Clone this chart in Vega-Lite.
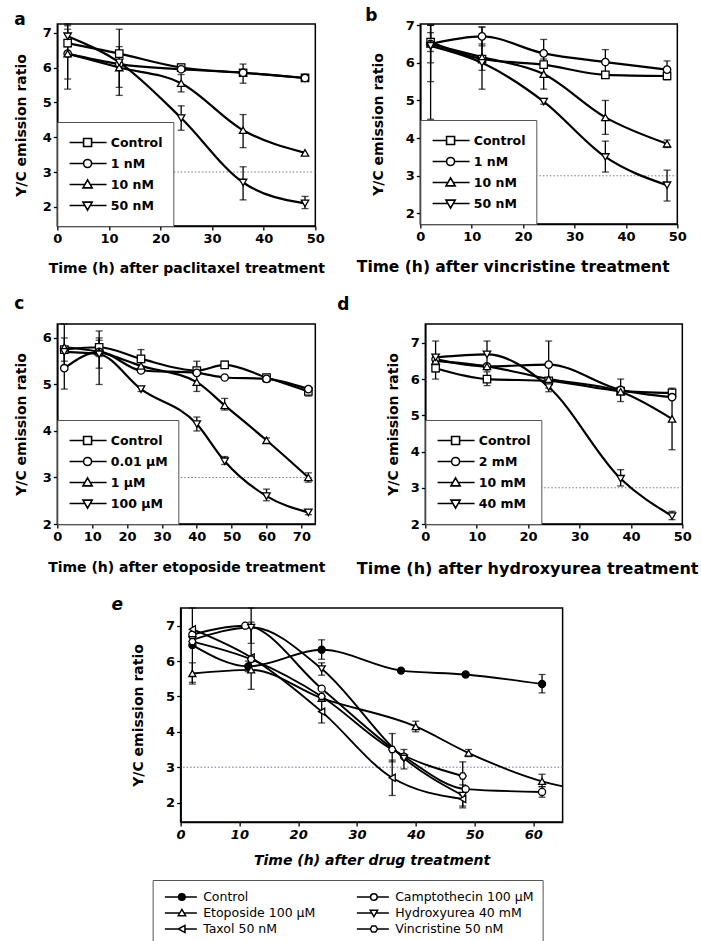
{
"$schema": "https://vega.github.io/schema/vega-lite/v6.json",
"background": "white",
"padding": {"left": 13, "top": 6, "right": 0, "bottom": 0},
"datasets": {
"a": [
{"series":"Control","t":2,"v":6.7,"lo":6.45,"hi":6.95},
{"series":"Control","t":12,"v":6.4},
{"series":"Control","t":24,"v":6.0,"lo":5.9,"hi":6.1},
{"series":"Control","t":36,"v":5.85,"lo":5.55,"hi":6.1},
{"series":"Control","t":48,"v":5.7,"lo":5.62,"hi":5.78},
{"series":"1 nM","t":2,"v":6.4,"lo":5.67,"hi":7.1},
{"series":"1 nM","t":12,"v":6.1},
{"series":"1 nM","t":24,"v":5.95},
{"series":"1 nM","t":36,"v":5.85},
{"series":"1 nM","t":48,"v":5.7},
{"series":"10 nM","t":2,"v":6.4,"lo":5.38,"hi":7.25},
{"series":"10 nM","t":12,"v":6.0,"lo":5.43,"hi":6.6},
{"series":"10 nM","t":24,"v":5.55,"lo":5.3,"hi":5.8},
{"series":"10 nM","t":36,"v":4.2,"lo":3.7,"hi":4.65},
{"series":"10 nM","t":48,"v":3.55},
{"series":"50 nM","t":2,"v":6.9,"lo":6.6,"hi":7.2},
{"series":"50 nM","t":12,"v":6.15,"lo":5.2,"hi":7.1},
{"series":"50 nM","t":24,"v":4.55,"lo":4.2,"hi":4.9},
{"series":"50 nM","t":36,"v":2.7,"lo":2.2,"hi":3.15},
{"series":"50 nM","t":48,"v":2.1,"lo":1.95,"hi":2.3}
],
"b": [
{"series":"Control","t":2,"v":6.55,"lo":6.3,"hi":6.8},
{"series":"Control","t":12,"v":6.1},
{"series":"Control","t":24,"v":5.95},
{"series":"Control","t":36,"v":5.68},
{"series":"Control","t":48,"v":5.65,"lo":5.55,"hi":5.75},
{"series":"1 nM","t":2,"v":6.5,"lo":6.0,"hi":7.0},
{"series":"1 nM","t":12,"v":6.7,"lo":6.45,"hi":6.95},
{"series":"1 nM","t":24,"v":6.25,"lo":5.9,"hi":6.62},
{"series":"1 nM","t":36,"v":6.02,"lo":5.7,"hi":6.35},
{"series":"1 nM","t":48,"v":5.82,"lo":5.6,"hi":6.05},
{"series":"10 nM","t":2,"v":6.5,"lo":5.5,"hi":7.0},
{"series":"10 nM","t":12,"v":6.15,"lo":5.8,"hi":6.5},
{"series":"10 nM","t":24,"v":5.7,"lo":5.3,"hi":6.1},
{"series":"10 nM","t":36,"v":4.55,"lo":4.1,"hi":5.0},
{"series":"10 nM","t":48,"v":3.85,"lo":3.75,"hi":3.95},
{"series":"50 nM","t":2,"v":6.45,"lo":4.5,"hi":7.0},
{"series":"50 nM","t":12,"v":6.0,"lo":5.3,"hi":6.95},
{"series":"50 nM","t":24,"v":4.97,"lo":4.9,"hi":5.05},
{"series":"50 nM","t":36,"v":3.5,"lo":3.1,"hi":3.92},
{"series":"50 nM","t":48,"v":2.75,"lo":2.33,"hi":3.15}
],
"c": [
{"series":"Control","t":2,"v":5.75},
{"series":"Control","t":12,"v":5.8,"lo":5.6,"hi":5.95},
{"series":"Control","t":24,"v":5.55,"lo":5.3,"hi":5.75},
{"series":"Control","t":40,"v":5.3},
{"series":"Control","t":48,"v":5.42,"lo":5.35,"hi":5.5},
{"series":"Control","t":60,"v":5.15},
{"series":"Control","t":72,"v":4.85,"lo":4.75,"hi":4.95},
{"series":"0.01 µM","t":2,"v":5.35,"lo":4.9,"hi":5.8},
{"series":"0.01 µM","t":12,"v":5.7},
{"series":"0.01 µM","t":24,"v":5.3},
{"series":"0.01 µM","t":40,"v":5.25},
{"series":"0.01 µM","t":48,"v":5.15},
{"series":"0.01 µM","t":60,"v":5.12,"lo":5.05,"hi":5.2},
{"series":"0.01 µM","t":72,"v":4.9},
{"series":"1 µM","t":2,"v":5.8,"lo":5.5,"hi":6.3},
{"series":"1 µM","t":12,"v":5.7,"lo":5.0,"hi":6.15},
{"series":"1 µM","t":24,"v":5.4},
{"series":"1 µM","t":40,"v":5.05,"lo":4.85,"hi":5.5},
{"series":"1 µM","t":48,"v":4.55,"lo":4.45,"hi":4.7},
{"series":"1 µM","t":60,"v":3.8,"lo":3.75,"hi":3.85},
{"series":"1 µM","t":72,"v":3.0,"lo":2.9,"hi":3.1},
{"series":"100 µM","t":2,"v":5.7,"lo":5.4,"hi":6.0},
{"series":"100 µM","t":12,"v":5.65,"lo":5.35,"hi":6.0},
{"series":"100 µM","t":24,"v":4.9,"lo":4.85,"hi":4.95},
{"series":"100 µM","t":40,"v":4.15,"lo":4.0,"hi":4.3},
{"series":"100 µM","t":48,"v":3.35,"lo":3.28,"hi":3.45},
{"series":"100 µM","t":60,"v":2.6,"lo":2.5,"hi":2.75},
{"series":"100 µM","t":72,"v":2.25,"lo":2.2,"hi":2.3}
],
"d": [
{"series":"Control","t":2,"v":6.3,"lo":6.2,"hi":6.45},
{"series":"Control","t":12,"v":6.0,"lo":5.82,"hi":6.2},
{"series":"Control","t":24,"v":5.95},
{"series":"Control","t":38,"v":5.67},
{"series":"Control","t":48,"v":5.62,"lo":5.55,"hi":5.75},
{"series":"2 mM","t":2,"v":6.55},
{"series":"2 mM","t":12,"v":6.35},
{"series":"2 mM","t":24,"v":6.4,"lo":5.75,"hi":7.05},
{"series":"2 mM","t":38,"v":5.7,"lo":5.38,"hi":6.0},
{"series":"2 mM","t":48,"v":5.5},
{"series":"10 mM","t":2,"v":6.5,"lo":6.0,"hi":7.05},
{"series":"10 mM","t":12,"v":6.35},
{"series":"10 mM","t":24,"v":6.0},
{"series":"10 mM","t":38,"v":5.65},
{"series":"10 mM","t":48,"v":4.9,"lo":4.05,"hi":5.55},
{"series":"40 mM","t":2,"v":6.6},
{"series":"40 mM","t":12,"v":6.68,"lo":6.35,"hi":7.05},
{"series":"40 mM","t":24,"v":5.78,"lo":5.65,"hi":5.9},
{"series":"40 mM","t":38,"v":3.25,"lo":3.05,"hi":3.5},
{"series":"40 mM","t":48,"v":2.22,"lo":2.12,"hi":2.35}
],
"e": [
{"series":"Control","t":2,"v":6.45},
{"series":"Control","t":11.5,"v":5.85,"lo":5.7,"hi":6.0},
{"series":"Control","t":24,"v":6.32,"lo":6.05,"hi":6.6},
{"series":"Control","t":37.5,"v":5.73},
{"series":"Control","t":48.5,"v":5.62},
{"series":"Control","t":61.5,"v":5.35,"lo":5.1,"hi":5.62},
{"series":"Camptothecin 100 µM","t":2,"v":6.75},
{"series":"Camptothecin 100 µM","t":11,"v":7.0},
{"series":"Camptothecin 100 µM","t":24,"v":5.22},
{"series":"Camptothecin 100 µM","t":38,"v":3.3},
{"series":"Camptothecin 100 µM","t":48.5,"v":2.38},
{"series":"Camptothecin 100 µM","t":61.5,"v":2.3,"lo":2.15,"hi":2.45},
{"series":"Etoposide 100 µM","t":2,"v":5.65,"lo":5.35,"hi":5.95},
{"series":"Etoposide 100 µM","t":12,"v":5.75},
{"series":"Etoposide 100 µM","t":24,"v":4.95},
{"series":"Etoposide 100 µM","t":40,"v":4.15,"lo":4.0,"hi":4.3},
{"series":"Etoposide 100 µM","t":49,"v":3.4,"lo":3.3,"hi":3.5},
{"series":"Etoposide 100 µM","t":61.5,"v":2.6,"lo":2.45,"hi":2.8},
{"series":"Etoposide 100 µM","t":72,"v":2.25},
{"series":"Hydroxyurea 40 mM","t":2,"v":6.6},
{"series":"Hydroxyurea 40 mM","t":12,"v":6.95,"lo":6.5,"hi":7.1},
{"series":"Hydroxyurea 40 mM","t":24,"v":5.78,"lo":5.6,"hi":5.95},
{"series":"Hydroxyurea 40 mM","t":38,"v":3.25,"lo":2.95,"hi":3.5},
{"series":"Hydroxyurea 40 mM","t":48,"v":2.2,"lo":1.9,"hi":2.5},
{"series":"Taxol 50 nM","t":2,"v":6.9,"lo":5.4,"hi":7.5},
{"series":"Taxol 50 nM","t":12,"v":6.1,"lo":5.2,"hi":7.5},
{"series":"Taxol 50 nM","t":24,"v":4.57,"lo":4.25,"hi":4.9},
{"series":"Taxol 50 nM","t":36,"v":2.7,"lo":2.2,"hi":3.2},
{"series":"Taxol 50 nM","t":48,"v":2.1,"lo":1.85,"hi":2.4},
{"series":"Vincristine 50 nM","t":2,"v":6.55},
{"series":"Vincristine 50 nM","t":12,"v":6.05},
{"series":"Vincristine 50 nM","t":24,"v":5.0},
{"series":"Vincristine 50 nM","t":36,"v":3.5,"lo":3.15,"hi":3.95},
{"series":"Vincristine 50 nM","t":48,"v":2.75,"lo":2.2,"hi":3.15}
]
},
"vconcat": [
{
"vconcat": [
{
"hconcat": [
{
"title": {"text": "a", "offset": -6},
"width": 258, "height": 202,
"data": {"name": "a"},
"layer": [
{"data": {"values": [{}]}, "mark": {"type": "rule", "strokeDash": [1.5, 2], "color": "#777", "strokeWidth": 1}, "encoding": {"y": {"datum": 3, "type": "quantitative", "scale": {"domain": [1.45, 7.25], "nice": false, "zero": false}, "axis": {"title": "Y/C emission ratio", "values": [2,3,4,5,6,7], "titlePadding": 14}}}},
{"mark": {"type": "line", "interpolate": "monotone", "color": "black", "strokeWidth": 2.2, "clip": true}, "encoding": {"x": {"field": "t", "type": "quantitative", "scale": {"domain": [0, 50], "nice": false, "zero": false}, "axis": {"title": "Time (h) after paclitaxel treatment", "values": [0,10,20,30,40,50], "titlePadding": 16}}, "y": {"field": "v", "type": "quantitative", "scale": {"domain": [1.45, 7.25], "nice": false, "zero": false}, "axis": {"title": "Y/C emission ratio", "values": [2,3,4,5,6,7], "titlePadding": 14}}, "detail": {"field": "series"}}},
{"transform": [{"filter": "isValid(datum.lo)"}], "mark": {"type": "errorbar", "ticks": {"size": 7, "color": "black", "thickness": 1.3}, "rule": {"color": "black", "strokeWidth": 1.3}}, "encoding": {"x": {"field": "t", "type": "quantitative", "scale": {"domain": [0, 50], "nice": false, "zero": false}, "axis": {"title": "Time (h) after paclitaxel treatment", "values": [0,10,20,30,40,50], "titlePadding": 16}}, "y": {"field": "lo", "type": "quantitative", "scale": {"domain": [1.45, 7.25], "nice": false, "zero": false}, "axis": {"title": "Y/C emission ratio", "values": [2,3,4,5,6,7], "titlePadding": 14}}, "y2": {"field": "hi"}}},
{"mark": {"type": "point", "filled": true, "fill": "white", "stroke": "black", "strokeWidth": 1.3, "size": 55, "opacity": 1, "clip": true}, "encoding": {"x": {"field": "t", "type": "quantitative", "scale": {"domain": [0, 50], "nice": false, "zero": false}, "axis": {"title": "Time (h) after paclitaxel treatment", "values": [0,10,20,30,40,50], "titlePadding": 16}}, "y": {"field": "v", "type": "quantitative", "scale": {"domain": [1.45, 7.25], "nice": false, "zero": false}, "axis": {"title": "Y/C emission ratio", "values": [2,3,4,5,6,7], "titlePadding": 14}}, "shape": {"field": "series", "scale": {"domain": ["Control","1 nM","10 nM","50 nM"], "range": ["square","circle","triangle-up","triangle-down"]}, "legend": null}}},
{"transform": [{"filter": "false"}], "mark": {"type": "point", "color": "black", "opacity": 1}, "encoding": {"x": {"field": "t", "type": "quantitative", "scale": {"domain": [0, 50], "nice": false, "zero": false}, "axis": {"title": "Time (h) after paclitaxel treatment", "values": [0,10,20,30,40,50], "titlePadding": 16}}, "y": {"field": "v", "type": "quantitative", "scale": {"domain": [1.45, 7.25], "nice": false, "zero": false}, "axis": {"title": "Y/C emission ratio", "values": [2,3,4,5,6,7], "titlePadding": 14}}, "shape": {"field": "series", "scale": {"domain": ["Control","1 nM","10 nM","50 nM"], "range": ["M-1,0H2.5M4.5,0H8.25M2.5,-1H4.5V1H2.5Z", "M-1,0H2.5M4.5,0H8.25M4.5,0C4.5,0.552 4.052,1 3.5,1C2.948,1 2.5,0.552 2.5,0C2.5,-0.552 2.948,-1 3.5,-1C4.052,-1 4.5,-0.552 4.5,0Z", "M-1,0H2.85M4.15,0H8.25M3.5,-1.15L4.65,0.85H2.35Z", "M-1,0H2.85M4.15,0H8.25M3.5,1.15L4.65,-0.85H2.35Z"]}, "legend": {"title": null, "orient": "bottom-left", "offset": 0, "padding": 10, "symbolSize": 64, "symbolStrokeWidth": 1.6, "symbolStrokeColor": "black", "symbolFillColor": "white", "symbolOpacity": 1, "labelOffset": 31, "labelFont": "DejaVu Sans", "labelFontSize": 12.5, "labelFontWeight": "bold", "labelColor": "black", "clipHeight": 21, "rowPadding": 0, "strokeColor": "#555", "fillColor": "white", "encode": {"legend": {"update": {"strokeDash": {"value": [1.5, 1.5]}, "strokeWidth": {"value": 1}}}, "labels": {"update": {"fontStyle": {"signal": "datum.label === 'Control' ? 'italic' : 'normal'"}}}}}}}}
],
"resolve": {"scale": {"shape": "independent"}}
},
{
"title": {"text": "b", "offset": -6, "dx": 9},
"width": 257, "height": 200,
"data": {"name": "b"},
"layer": [
{"data": {"values": [{}]}, "mark": {"type": "rule", "strokeDash": [1.5, 2], "color": "#777", "strokeWidth": 1}, "encoding": {"y": {"datum": 3, "type": "quantitative", "scale": {"domain": [1.72, 7.03], "nice": false, "zero": false}, "axis": {"title": "Y/C emission ratio", "values": [2,3,4,5,6,7], "titlePadding": 20}}}},
{"mark": {"type": "line", "interpolate": "monotone", "color": "black", "strokeWidth": 2.2, "clip": true}, "encoding": {"x": {"field": "t", "type": "quantitative", "scale": {"domain": [0, 50], "nice": false, "zero": false}, "axis": {"title": "Time (h) after vincristine treatment", "values": [0,10,20,30,40,50], "titlePadding": 16, "titleX": -64, "titleAlign": "left", "titleFontSize": 15.5}}, "y": {"field": "v", "type": "quantitative", "scale": {"domain": [1.72, 7.03], "nice": false, "zero": false}, "axis": {"title": "Y/C emission ratio", "values": [2,3,4,5,6,7], "titlePadding": 20}}, "detail": {"field": "series"}}},
{"transform": [{"filter": "isValid(datum.lo)"}], "mark": {"type": "errorbar", "ticks": {"size": 7, "color": "black", "thickness": 1.3}, "rule": {"color": "black", "strokeWidth": 1.3}}, "encoding": {"x": {"field": "t", "type": "quantitative", "scale": {"domain": [0, 50], "nice": false, "zero": false}, "axis": {"title": "Time (h) after vincristine treatment", "values": [0,10,20,30,40,50], "titlePadding": 16, "titleX": -64, "titleAlign": "left", "titleFontSize": 15.5}}, "y": {"field": "lo", "type": "quantitative", "scale": {"domain": [1.72, 7.03], "nice": false, "zero": false}, "axis": {"title": "Y/C emission ratio", "values": [2,3,4,5,6,7], "titlePadding": 20}}, "y2": {"field": "hi"}}},
{"mark": {"type": "point", "filled": true, "fill": "white", "stroke": "black", "strokeWidth": 1.3, "size": 55, "opacity": 1, "clip": true}, "encoding": {"x": {"field": "t", "type": "quantitative", "scale": {"domain": [0, 50], "nice": false, "zero": false}, "axis": {"title": "Time (h) after vincristine treatment", "values": [0,10,20,30,40,50], "titlePadding": 16, "titleX": -64, "titleAlign": "left", "titleFontSize": 15.5}}, "y": {"field": "v", "type": "quantitative", "scale": {"domain": [1.72, 7.03], "nice": false, "zero": false}, "axis": {"title": "Y/C emission ratio", "values": [2,3,4,5,6,7], "titlePadding": 20}}, "shape": {"field": "series", "scale": {"domain": ["Control","1 nM","10 nM","50 nM"], "range": ["square","circle","triangle-up","triangle-down"]}, "legend": null}}},
{"transform": [{"filter": "false"}], "mark": {"type": "point", "color": "black", "opacity": 1}, "encoding": {"x": {"field": "t", "type": "quantitative", "scale": {"domain": [0, 50], "nice": false, "zero": false}, "axis": {"title": "Time (h) after vincristine treatment", "values": [0,10,20,30,40,50], "titlePadding": 16, "titleX": -64, "titleAlign": "left", "titleFontSize": 15.5}}, "y": {"field": "v", "type": "quantitative", "scale": {"domain": [1.72, 7.03], "nice": false, "zero": false}, "axis": {"title": "Y/C emission ratio", "values": [2,3,4,5,6,7], "titlePadding": 20}}, "shape": {"field": "series", "scale": {"domain": ["Control","1 nM","10 nM","50 nM"], "range": ["M-1,0H2.5M4.5,0H8.25M2.5,-1H4.5V1H2.5Z", "M-1,0H2.5M4.5,0H8.25M4.5,0C4.5,0.552 4.052,1 3.5,1C2.948,1 2.5,0.552 2.5,0C2.5,-0.552 2.948,-1 3.5,-1C4.052,-1 4.5,-0.552 4.5,0Z", "M-1,0H2.85M4.15,0H8.25M3.5,-1.15L4.65,0.85H2.35Z", "M-1,0H2.85M4.15,0H8.25M3.5,1.15L4.65,-0.85H2.35Z"]}, "legend": {"title": null, "orient": "bottom-left", "offset": 0, "padding": 10, "symbolSize": 64, "symbolStrokeWidth": 1.6, "symbolStrokeColor": "black", "symbolFillColor": "white", "symbolOpacity": 1, "labelOffset": 31, "labelFont": "DejaVu Sans", "labelFontSize": 12.5, "labelFontWeight": "bold", "labelColor": "black", "clipHeight": 21, "rowPadding": 0, "strokeColor": "#555", "fillColor": "white", "encode": {"legend": {"update": {"strokeDash": {"value": [1.5, 1.5]}, "strokeWidth": {"value": 1}}}}}}}}
],
"resolve": {"scale": {"shape": "independent"}}
}
],
"spacing": 105,
"bounds": "flush"
},
{
"hconcat": [
{
"title": {"text": "c", "offset": 10},
"width": 258, "height": 200,
"data": {"name": "c"},
"layer": [
{"data": {"values": [{}]}, "mark": {"type": "rule", "strokeDash": [1.5, 2], "color": "#777", "strokeWidth": 1}, "encoding": {"y": {"datum": 3, "type": "quantitative", "scale": {"domain": [2, 6.3], "nice": false, "zero": false}, "axis": {"title": "Y/C emission ratio", "values": [2,3,4,5,6], "titlePadding": 14}}}},
{"mark": {"type": "line", "interpolate": "monotone", "color": "black", "strokeWidth": 2.2, "clip": true}, "encoding": {"x": {"field": "t", "type": "quantitative", "scale": {"domain": [0, 74], "nice": false, "zero": false}, "axis": {"title": "Time (h) after etoposide treatment", "values": [0,10,20,30,40,50,60,70], "titlePadding": 17}}, "y": {"field": "v", "type": "quantitative", "scale": {"domain": [2, 6.3], "nice": false, "zero": false}, "axis": {"title": "Y/C emission ratio", "values": [2,3,4,5,6], "titlePadding": 14}}, "detail": {"field": "series"}}},
{"transform": [{"filter": "isValid(datum.lo)"}], "mark": {"type": "errorbar", "ticks": {"size": 7, "color": "black", "thickness": 1.3}, "rule": {"color": "black", "strokeWidth": 1.3}}, "encoding": {"x": {"field": "t", "type": "quantitative", "scale": {"domain": [0, 74], "nice": false, "zero": false}, "axis": {"title": "Time (h) after etoposide treatment", "values": [0,10,20,30,40,50,60,70], "titlePadding": 17}}, "y": {"field": "lo", "type": "quantitative", "scale": {"domain": [2, 6.3], "nice": false, "zero": false}, "axis": {"title": "Y/C emission ratio", "values": [2,3,4,5,6], "titlePadding": 14}}, "y2": {"field": "hi"}}},
{"mark": {"type": "point", "filled": true, "fill": "white", "stroke": "black", "strokeWidth": 1.3, "size": 55, "opacity": 1, "clip": true}, "encoding": {"x": {"field": "t", "type": "quantitative", "scale": {"domain": [0, 74], "nice": false, "zero": false}, "axis": {"title": "Time (h) after etoposide treatment", "values": [0,10,20,30,40,50,60,70], "titlePadding": 17}}, "y": {"field": "v", "type": "quantitative", "scale": {"domain": [2, 6.3], "nice": false, "zero": false}, "axis": {"title": "Y/C emission ratio", "values": [2,3,4,5,6], "titlePadding": 14}}, "shape": {"field": "series", "scale": {"domain": ["Control","0.01 µM","1 µM","100 µM"], "range": ["square","circle","triangle-up","triangle-down"]}, "legend": null}}},
{"transform": [{"filter": "false"}], "mark": {"type": "point", "color": "black", "opacity": 1}, "encoding": {"x": {"field": "t", "type": "quantitative", "scale": {"domain": [0, 74], "nice": false, "zero": false}, "axis": {"title": "Time (h) after etoposide treatment", "values": [0,10,20,30,40,50,60,70], "titlePadding": 17}}, "y": {"field": "v", "type": "quantitative", "scale": {"domain": [2, 6.3], "nice": false, "zero": false}, "axis": {"title": "Y/C emission ratio", "values": [2,3,4,5,6], "titlePadding": 14}}, "shape": {"field": "series", "scale": {"domain": ["Control","0.01 µM","1 µM","100 µM"], "range": ["M-1,0H2.5M4.5,0H8.25M2.5,-1H4.5V1H2.5Z", "M-1,0H2.5M4.5,0H8.25M4.5,0C4.5,0.552 4.052,1 3.5,1C2.948,1 2.5,0.552 2.5,0C2.5,-0.552 2.948,-1 3.5,-1C4.052,-1 4.5,-0.552 4.5,0Z", "M-1,0H2.85M4.15,0H8.25M3.5,-1.15L4.65,0.85H2.35Z", "M-1,0H2.85M4.15,0H8.25M3.5,1.15L4.65,-0.85H2.35Z"]}, "legend": {"title": null, "orient": "bottom-left", "offset": 0, "padding": 10, "symbolSize": 64, "symbolStrokeWidth": 1.6, "symbolStrokeColor": "black", "symbolFillColor": "white", "symbolOpacity": 1, "labelOffset": 31, "labelFont": "DejaVu Sans", "labelFontSize": 12.5, "labelFontWeight": "bold", "labelColor": "black", "clipHeight": 21, "rowPadding": 0, "strokeColor": "#555", "fillColor": "white", "encode": {"legend": {"update": {"strokeDash": {"value": [1.5, 1.5]}, "strokeWidth": {"value": 1}}}}}}}}
],
"resolve": {"scale": {"shape": "independent"}}
},
{
"title": {"text": "d", "offset": 10, "dx": -19},
"width": 257, "height": 200,
"data": {"name": "d"},
"layer": [
{"data": {"values": [{}]}, "mark": {"type": "rule", "strokeDash": [1.5, 2], "color": "#777", "strokeWidth": 1}, "encoding": {"y": {"datum": 3, "type": "quantitative", "scale": {"domain": [2, 7.52], "nice": false, "zero": false}, "axis": {"title": "Y/C emission ratio", "values": [2,3,4,5,6,7], "titlePadding": 10}}}},
{"mark": {"type": "line", "interpolate": "monotone", "color": "black", "strokeWidth": 2.2, "clip": true}, "encoding": {"x": {"field": "t", "type": "quantitative", "scale": {"domain": [0, 50], "nice": false, "zero": false}, "axis": {"title": "Time (h) after hydroxyurea treatment", "values": [0,10,20,30,40,50], "titlePadding": 17, "titleX": -69, "titleAlign": "left", "titleFontSize": 16}}, "y": {"field": "v", "type": "quantitative", "scale": {"domain": [2, 7.52], "nice": false, "zero": false}, "axis": {"title": "Y/C emission ratio", "values": [2,3,4,5,6,7], "titlePadding": 10}}, "detail": {"field": "series"}}},
{"transform": [{"filter": "isValid(datum.lo)"}], "mark": {"type": "errorbar", "ticks": {"size": 7, "color": "black", "thickness": 1.3}, "rule": {"color": "black", "strokeWidth": 1.3}}, "encoding": {"x": {"field": "t", "type": "quantitative", "scale": {"domain": [0, 50], "nice": false, "zero": false}, "axis": {"title": "Time (h) after hydroxyurea treatment", "values": [0,10,20,30,40,50], "titlePadding": 17, "titleX": -69, "titleAlign": "left", "titleFontSize": 16}}, "y": {"field": "lo", "type": "quantitative", "scale": {"domain": [2, 7.52], "nice": false, "zero": false}, "axis": {"title": "Y/C emission ratio", "values": [2,3,4,5,6,7], "titlePadding": 10}}, "y2": {"field": "hi"}}},
{"mark": {"type": "point", "filled": true, "fill": "white", "stroke": "black", "strokeWidth": 1.3, "size": 55, "opacity": 1, "clip": true}, "encoding": {"x": {"field": "t", "type": "quantitative", "scale": {"domain": [0, 50], "nice": false, "zero": false}, "axis": {"title": "Time (h) after hydroxyurea treatment", "values": [0,10,20,30,40,50], "titlePadding": 17, "titleX": -69, "titleAlign": "left", "titleFontSize": 16}}, "y": {"field": "v", "type": "quantitative", "scale": {"domain": [2, 7.52], "nice": false, "zero": false}, "axis": {"title": "Y/C emission ratio", "values": [2,3,4,5,6,7], "titlePadding": 10}}, "shape": {"field": "series", "scale": {"domain": ["Control","2 mM","10 mM","40 mM"], "range": ["square","circle","triangle-up","triangle-down"]}, "legend": null}}},
{"transform": [{"filter": "false"}], "mark": {"type": "point", "color": "black", "opacity": 1}, "encoding": {"x": {"field": "t", "type": "quantitative", "scale": {"domain": [0, 50], "nice": false, "zero": false}, "axis": {"title": "Time (h) after hydroxyurea treatment", "values": [0,10,20,30,40,50], "titlePadding": 17, "titleX": -69, "titleAlign": "left", "titleFontSize": 16}}, "y": {"field": "v", "type": "quantitative", "scale": {"domain": [2, 7.52], "nice": false, "zero": false}, "axis": {"title": "Y/C emission ratio", "values": [2,3,4,5,6,7], "titlePadding": 10}}, "shape": {"field": "series", "scale": {"domain": ["Control","2 mM","10 mM","40 mM"], "range": ["M-1,0H2.5M4.5,0H8.25M2.5,-1H4.5V1H2.5Z", "M-1,0H2.5M4.5,0H8.25M4.5,0C4.5,0.552 4.052,1 3.5,1C2.948,1 2.5,0.552 2.5,0C2.5,-0.552 2.948,-1 3.5,-1C4.052,-1 4.5,-0.552 4.5,0Z", "M-1,0H2.85M4.15,0H8.25M3.5,-1.15L4.65,0.85H2.35Z", "M-1,0H2.85M4.15,0H8.25M3.5,1.15L4.65,-0.85H2.35Z"]}, "legend": {"title": null, "orient": "bottom-left", "offset": 0, "padding": 10, "symbolSize": 64, "symbolStrokeWidth": 1.6, "symbolStrokeColor": "black", "symbolFillColor": "white", "symbolOpacity": 1, "labelOffset": 31, "labelFont": "DejaVu Sans", "labelFontSize": 12.5, "labelFontWeight": "bold", "labelColor": "black", "clipHeight": 21, "rowPadding": 0, "strokeColor": "#555", "fillColor": "white", "encode": {"legend": {"update": {"strokeDash": {"value": [1.5, 1.5]}, "strokeWidth": {"value": 1}}}}}}}}
],
"resolve": {"scale": {"shape": "independent"}}
}
],
"spacing": 110,
"bounds": "flush"
}
],
"spacing": 18
},
{
"title": {"text": "e", "offset": -7, "dx": -20, "fontStyle": "italic"},
"width": 382, "height": 214,
"data": {"name": "e"},
"layer": [
{"data": {"values": [{}]}, "mark": {"type": "rule", "strokeDash": [1.5, 2], "color": "#66a", "strokeWidth": 1}, "encoding": {"y": {"datum": 3, "type": "quantitative", "scale": {"domain": [1.45, 7.5], "nice": false, "zero": false}, "axis": {"orient": "right", "offset": 12, "domainColor": "white", "labels": false, "ticks": false, "title": null, "grid": false}}}},
{
"layer": [
{"mark": {"type": "line", "interpolate": "monotone", "color": "black", "strokeWidth": 1.9, "clip": true}, "encoding": {"x": {"field": "t", "type": "quantitative", "scale": {"domain": [0, 65], "nice": false, "zero": false}, "axis": {"title": "Time (h) after drug treatment", "values": [0,10,20,30,40,50,60], "titlePadding": 12, "labelFontStyle": "italic", "titleFontStyle": "italic"}}, "y": {"field": "v", "type": "quantitative", "scale": {"domain": [1.45, 7.5], "nice": false, "zero": false}, "axis": {"orient": "left", "title": "Y/C emission ratio", "values": [2,3,4,5,6,7], "titlePadding": 20}}, "detail": {"field": "series"}}},
{"transform": [{"filter": "isValid(datum.lo)"}], "mark": {"type": "errorbar", "ticks": {"size": 7, "color": "black", "thickness": 1.3}, "rule": {"color": "black", "strokeWidth": 1.3}}, "encoding": {"x": {"field": "t", "type": "quantitative", "scale": {"domain": [0, 65], "nice": false, "zero": false}, "axis": {"title": "Time (h) after drug treatment", "values": [0,10,20,30,40,50,60], "titlePadding": 12, "labelFontStyle": "italic", "titleFontStyle": "italic"}}, "y": {"field": "lo", "type": "quantitative", "scale": {"domain": [1.45, 7.5], "nice": false, "zero": false}, "axis": {"orient": "left", "title": "Y/C emission ratio", "values": [2,3,4,5,6,7], "titlePadding": 20}}, "y2": {"field": "hi"}}},
{"mark": {"type": "point", "filled": true, "stroke": "black", "strokeWidth": 1.3, "size": 50, "opacity": 1, "clip": true}, "encoding": {"x": {"field": "t", "type": "quantitative", "scale": {"domain": [0, 65], "nice": false, "zero": false}, "axis": {"title": "Time (h) after drug treatment", "values": [0,10,20,30,40,50,60], "titlePadding": 12, "labelFontStyle": "italic", "titleFontStyle": "italic"}}, "y": {"field": "v", "type": "quantitative", "scale": {"domain": [1.45, 7.5], "nice": false, "zero": false}, "axis": {"orient": "left", "title": "Y/C emission ratio", "values": [2,3,4,5,6,7], "titlePadding": 20}}, "fill": {"condition": {"test": "datum.series === 'Control'", "value": "black"}, "value": "white"}, "shape": {"field": "series", "scale": {"domain": ["Control","Camptothecin 100 µM","Etoposide 100 µM","Hydroxyurea 40 mM","Taxol 50 nM","Vincristine 50 nM"], "range": ["circle","circle","triangle-up","triangle-down","triangle-left","M-1,0L-0.5,-0.87H0.5L1,0L0.5,0.87H-0.5Z"]}, "legend": null}}},
{"transform": [{"filter": "false"}], "mark": {"type": "point", "color": "black", "opacity": 1}, "encoding": {"x": {"field": "t", "type": "quantitative", "scale": {"domain": [0, 65], "nice": false, "zero": false}, "axis": {"title": "Time (h) after drug treatment", "values": [0,10,20,30,40,50,60], "titlePadding": 12, "labelFontStyle": "italic", "titleFontStyle": "italic"}}, "y": {"field": "v", "type": "quantitative", "scale": {"domain": [1.45, 7.5], "nice": false, "zero": false}, "axis": {"orient": "left", "title": "Y/C emission ratio", "values": [2,3,4,5,6,7], "titlePadding": 20}}, "shape": {"field": "series", "scale": {"domain": ["Control","Camptothecin 100 µM","Etoposide 100 µM","Hydroxyurea 40 mM","Taxol 50 nM","Vincristine 50 nM"], "range": ["M-1,0H3.57M5.77,0H9.67M5.77,0C5.77,0.608 5.278,1.1 4.67,1.1C4.062,1.1 3.57,0.608 3.57,0C3.57,-0.608 4.062,-1.1 4.67,-1.1C5.278,-1.1 5.77,-0.608 5.77,0ZM5.32,0C5.32,0.359 5.029,0.65 4.67,0.65C4.311,0.65 4.02,0.359 4.02,0C4.02,-0.359 4.311,-0.65 4.67,-0.65C5.029,-0.65 5.32,-0.359 5.32,0ZM4.92,0C4.92,0.138 4.808,0.25 4.67,0.25C4.532,0.25 4.42,0.138 4.42,0C4.42,-0.138 4.532,-0.25 4.67,-0.25C4.808,-0.25 4.92,-0.138 4.92,0Z", "M-1,0H3.57M5.77,0H9.67M5.77,0C5.77,0.608 5.278,1.1 4.67,1.1C4.062,1.1 3.57,0.608 3.57,0C3.57,-0.608 4.062,-1.1 4.67,-1.1C5.278,-1.1 5.77,-0.608 5.77,0Z", "M-1,0H3.97M5.37,0H9.67M4.67,-1.2L5.9,0.9H3.44Z", "M-1,0H3.97M5.37,0H9.67M4.67,1.2L5.9,-0.9H3.44Z", "M-1,0H3.5M5.7,0H9.67M3.5,0L5.7,-1.2V1.2Z", "M-1,0H3.47M5.87,0H9.67M3.47,0L4.07,-1.04H5.27L5.87,0L5.27,1.04H4.07Z"]}, "legend": {"title": null, "orient": "none", "legendX": -28, "legendY": 272, "direction": "horizontal", "columns": 2, "columnPadding": 38, "padding": 9, "symbolSize": 36, "symbolStrokeWidth": 1.5, "symbolStrokeColor": "black", "symbolFillColor": "white", "symbolOpacity": 1, "labelOffset": 29, "labelFont": "DejaVu Sans", "labelFontSize": 12.5, "labelFontWeight": "normal", "labelColor": "black", "clipHeight": 16, "rowPadding": 0, "strokeColor": "#555", "fillColor": "white", "encode": {"legend": {"update": {"strokeDash": {"value": [1.5, 1.5]}, "strokeWidth": {"value": 1}}}, "labels": {"update": {"fontStyle": {"signal": "datum.label === 'Control' ? 'italic' : 'normal'"}}}}}}}}
],
"resolve": {"scale": {"shape": "independent"}}
}
],
"resolve": {"scale": {"y": "independent"}}
}
],
"spacing": 18,
"center": true,
"config": {
"font": "DejaVu Sans",
"view": {"stroke": "black", "strokeWidth": 1.5},
"title": {"fontSize": 17, "fontWeight": "bold", "anchor": "start", "color": "black", "font": "DejaVu Sans"},
"axis": {"domainColor": "black", "domainWidth": 1.5, "tickColor": "black", "tickWidth": 1.3, "tickSize": 4, "labelFont": "DejaVu Sans", "labelFontWeight": "bold", "labelFontSize": 13, "labelColor": "black", "labelPadding": 2, "labelFlush": false, "titleFont": "DejaVu Sans", "titleFontWeight": "bold", "titleFontSize": 14, "titleColor": "black", "grid": false}
}
}
